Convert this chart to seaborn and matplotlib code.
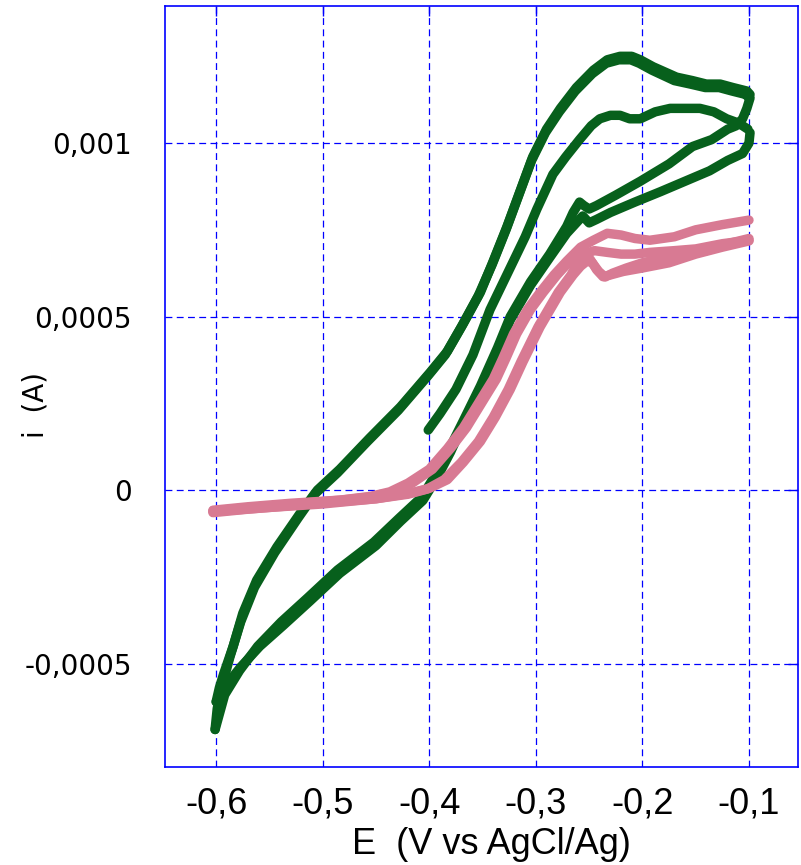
import pandas as pd
import matplotlib
matplotlib.use('Agg')
import matplotlib.pyplot as plt
import seaborn as sns

# ---- green voltammogram (3 scans) ----
g1_fwd_E = [-0.401, -0.390, -0.375, -0.359, -0.343, -0.332, -0.321, -0.310, -0.299, -0.284, -0.272,
            -0.259, -0.248, -0.240, -0.230, -0.221, -0.212, -0.202, -0.188, -0.174, -0.160, -0.146,
            -0.133, -0.121, -0.112, -0.106, -0.101]
g1_fwd_i = [0.000173, 0.00022, 0.00029, 0.00039, 0.00052, 0.00059, 0.00066, 0.00073, 0.00081, 0.00091, 0.00096,
            0.00101, 0.00105, 0.00107, 0.00108, 0.00108, 0.00107, 0.00107, 0.00109, 0.00110, 0.00110, 0.00110,
            0.00109, 0.00107, 0.00106, 0.00105, 0.00104]

g1_rev_E = [-0.099, -0.100, -0.106, -0.120, -0.137, -0.160, -0.183, -0.207, -0.230, -0.243, -0.250,
            -0.256, -0.262, -0.271, -0.287, -0.305, -0.324, -0.336, -0.352, -0.368, -0.380, -0.392,
            -0.406, -0.427, -0.450, -0.484, -0.512, -0.537, -0.559, -0.577, -0.590, -0.600]
g1_rev_i = [0.00103, 0.00100, 0.00097, 0.00095, 0.00092, 0.00089, 0.00086, 0.00083, 0.00080, 0.00078, 0.00077,
            0.00079, 0.00077, 0.00074, 0.00067, 0.00059, 0.00049, 0.00040, 0.00029, 0.00019, 0.00011, 0.00004,
            -0.00003, -0.00009, -0.00016, -0.00024, -0.00032, -0.00039, -0.00045, -0.00051, -0.00056, -0.00061]

g2_fwd_E = [-0.600, -0.597, -0.593, -0.584, -0.575, -0.562, -0.543, -0.521, -0.505, -0.484, -0.456, -0.427,
            -0.399, -0.383, -0.368, -0.352, -0.340, -0.327, -0.315, -0.303, -0.290, -0.277, -0.262, -0.246,
            -0.233, -0.221, -0.210, -0.202, -0.190, -0.168, -0.153, -0.140, -0.127, -0.115, -0.102, -0.099]
g2_fwd_i = [-0.00061, -0.00057, -0.00053, -0.00045, -0.000355, -0.00026, -0.000164, -0.000066, 0.00000,
            0.00006, 0.00015, 0.00024, 0.00034, 0.00040, 0.00048, 0.00057, 0.00066, 0.00076, 0.00086, 0.00096,
            0.00104, 0.00110, 0.00116, 0.00121, 0.00124, 0.00125, 0.00125, 0.00124, 0.00122, 0.00119, 0.00118,
            0.00117, 0.00117, 0.00116, 0.00115, 0.00114]

g2_rev_E = [-0.099, -0.102, -0.106, -0.112, -0.120, -0.135, -0.153, -0.175, -0.202, -0.225, -0.243, -0.250,
            -0.255, -0.259, -0.265, -0.271, -0.287, -0.305, -0.324, -0.336, -0.352, -0.368, -0.381, -0.393,
            -0.407, -0.428, -0.452, -0.486, -0.514, -0.539, -0.561, -0.578, -0.592, -0.601]
g2_rev_i = [0.00113, 0.00110, 0.00107, 0.00105, 0.00104, 0.00101, 0.00099, 0.00094, 0.00089, 0.00085, 0.00082,
            0.00081, 0.00082, 0.00083, 0.00080, 0.00076, 0.00068, 0.00060, 0.00050, 0.00041, 0.00030, 0.00020,
            0.00012, 0.00005, -0.00002, -0.00008, -0.00015, -0.00023, -0.00031, -0.00038, -0.00045, -0.00052,
            -0.00059, -0.00069]

g3_fwd_E = [-0.601, -0.599, -0.595, -0.587, -0.577, -0.564, -0.545, -0.523, -0.507, -0.486, -0.458, -0.429,
            -0.401, -0.385, -0.370, -0.354, -0.341, -0.328, -0.316, -0.304, -0.291, -0.278, -0.263, -0.247,
            -0.234, -0.222, -0.211, -0.203, -0.191, -0.170, -0.155, -0.141, -0.128, -0.116, -0.103, -0.100]
g3_fwd_i = [-0.00069, -0.00063, -0.00057, -0.00048, -0.00038, -0.00028, -0.00018, -0.00008, -0.00001,
            0.00005, 0.00014, 0.00023, 0.00033, 0.00039, 0.00047, 0.00056, 0.00065, 0.00075, 0.00085, 0.00095,
            0.00103, 0.00109, 0.00115, 0.00120, 0.00123, 0.00124, 0.00124, 0.00123, 0.00121, 0.00118, 0.00117,
            0.00116, 0.00116, 0.00115, 0.00114, 0.00113]

# ---- pink voltammogram (2 scans) ----
p1_fwd_E = [-0.603, -0.570, -0.530, -0.484, -0.455, -0.437, -0.420, -0.400, -0.383, -0.368, -0.352, -0.340,
            -0.331, -0.321, -0.308, -0.296, -0.283, -0.271, -0.258, -0.246, -0.233, -0.220, -0.207, -0.193,
            -0.170, -0.150, -0.125, -0.100]
p1_fwd_i = [-0.000058, -0.000048, -0.000038, -0.000029, -0.000018, -0.000005, 0.00002, 0.00006, 0.00012,
            0.00018, 0.00026, 0.00032, 0.00038, 0.00045, 0.00052, 0.00057, 0.00062, 0.00066, 0.00070, 0.00072,
            0.00074, 0.000735, 0.000725, 0.00072, 0.00073, 0.00075, 0.000765, 0.000778]

p1_rev_E = [-0.100, -0.120, -0.140, -0.170, -0.200, -0.215, -0.228, -0.235, -0.241, -0.247, -0.252, -0.258,
            -0.265, -0.277, -0.296, -0.312, -0.324, -0.338, -0.352, -0.368, -0.383, -0.400, -0.420, -0.450,
            -0.490, -0.530, -0.570, -0.603]
p1_rev_i = [0.000725, 0.00071, 0.00069, 0.000675, 0.000655, 0.00064, 0.000625, 0.000614, 0.00063, 0.000655,
            0.00066, 0.000645, 0.00062, 0.00057, 0.00047, 0.00037, 0.00029, 0.00021, 0.00014, 0.00008, 0.00003,
            0.000005, -0.00001, -0.000025, -0.000035, -0.000045, -0.000055, -0.000065]

p2_fwd_E = [-0.603, -0.560, -0.520, -0.480, -0.450, -0.432, -0.416, -0.397, -0.380, -0.365, -0.349, -0.337,
            -0.328, -0.318, -0.305, -0.293, -0.280, -0.268, -0.256, -0.245, -0.233, -0.220, -0.207, -0.193,
            -0.170, -0.150, -0.125, -0.100]
p2_fwd_i = [-0.00006, -0.000048, -0.000038, -0.000028, -0.000018, -0.000005, 0.00002, 0.00006, 0.00012,
            0.00018, 0.00026, 0.00032, 0.00038, 0.00045, 0.00052, 0.00057, 0.00062, 0.00066, 0.00068, 0.00069,
            0.000685, 0.00068, 0.00068, 0.000685, 0.00069, 0.000695, 0.00071, 0.00072]

p2_rev_E = [-0.100, -0.125, -0.150, -0.175, -0.200, -0.218, -0.230, -0.237, -0.243, -0.249, -0.255, -0.260,
            -0.267, -0.279, -0.298, -0.314, -0.326, -0.340, -0.354, -0.370, -0.386, -0.402, -0.420, -0.450,
            -0.500, -0.550, -0.603]
p2_rev_i = [0.000718, 0.00070, 0.00068, 0.000655, 0.00064, 0.00063, 0.00062, 0.000615, 0.000635, 0.000665,
            0.00067, 0.00066, 0.00062, 0.00057, 0.00047, 0.00037, 0.00029, 0.00021, 0.00014, 0.00008, 0.00003,
            0.000003, -0.000012, -0.000025, -0.00004, -0.00005, -0.000062]

xticks = [-0.6, -0.5, -0.4, -0.3, -0.2, -0.1]
xtick_labels = ['-0,6', '-0,5', '-0,4', '-0,3', '-0,2', '-0,1']
yticks = [-0.0005, 0.0, 0.0005, 0.001]
ytick_labels = ['-0,0005', '0', '0,0005', '0,001']

GREEN = '#07601c'
PINK = '#d87a93'


def make_df(segments):
    parts = []
    for k, (E, i) in enumerate(segments):
        parts.append(pd.DataFrame({'E': E, 'i': i, 'seg': k}))
    return pd.concat(parts, ignore_index=True)


green = make_df([(g1_fwd_E, g1_fwd_i), (g1_rev_E, g1_rev_i), (g2_fwd_E, g2_fwd_i),
                 (g2_rev_E, g2_rev_i), (g3_fwd_E, g3_fwd_i)])
pink = make_df([(p1_fwd_E, p1_fwd_i), (p1_rev_E, p1_rev_i),
                (p2_fwd_E, p2_fwd_i), (p2_rev_E, p2_rev_i)])

sns.set_style('white')
fig = plt.figure(figsize=(8.01, 8.65), dpi=100)
ax = fig.add_axes([165 / 801, 1 - 767 / 865, (798 - 165) / 801, (767 - 6) / 865])

line_kw = dict(estimator=None, sort=False, units='seg', lw=6.8, legend=False, ax=ax,
               solid_capstyle='round', solid_joinstyle='round')
sns.lineplot(data=green, x='E', y='i', color=GREEN, **line_kw)
sns.lineplot(data=pink, x='E', y='i', color=PINK, **line_kw)

ax.set_xlim(-0.648, -0.054)
ax.set_ylim(-0.000798, 0.001395)
ax.set_xticks(xticks)
ax.set_xticklabels(xtick_labels, family='Liberation Sans', fontsize=26, color='black')
ax.set_yticks(yticks)
ax.set_yticklabels(ytick_labels, family='DejaVu Sans', fontsize=20, color='black')
ax.tick_params(axis='both', direction='in', length=7, width=1, color='blue',
               top=True, right=True)
ax.tick_params(axis='x', pad=14)
ax.tick_params(axis='y', pad=24)

ax.grid(True, color='blue', linestyle=(0, (5.5, 3.5)), linewidth=0.9)
for s in ax.spines.values():
    s.set_color('blue')
    s.set_linewidth(1.2)

ax.set_xlabel('E  (V vs AgCl/Ag)', family='Liberation Sans', fontsize=26, color='black')
ax.xaxis.set_label_coords(0.515, -0.079)
ax.set_ylabel('i  (A)', family='DejaVu Sans', fontsize=20, color='black')
ax.yaxis.set_label_coords(-0.182, 0.476)

fig.savefig('out.png', dpi=100)
plt.close(fig)
